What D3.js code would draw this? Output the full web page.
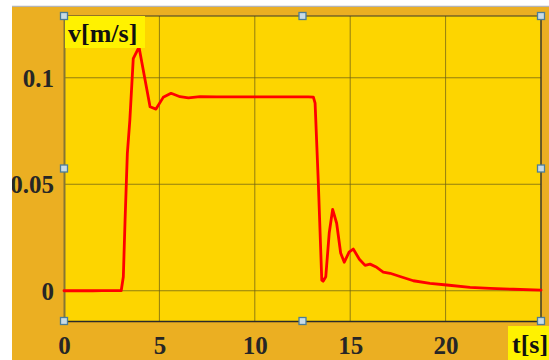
<!DOCTYPE html>
<html>
<head>
<meta charset="utf-8">
<script src="https://cdn.jsdelivr.net/npm/d3@7/dist/d3.min.js"></script>
<style>
  html, body { margin: 0; padding: 0; background: #ffffff; }
  svg { display: block; }
</style>
</head>
<body>
<script>
// Velocity response v(t)
const timeS = [0, 0.5, 1, 1.5, 2, 2.5, 3.0, 3.11, 3.2, 3.32, 3.45, 3.63, 3.93, 4.51, 4.82, 5.2, 5.61, 6.08, 6.52, 7.13, 8, 9, 10, 11, 12, 12.8, 13.07, 13.16, 13.33, 13.51, 13.58, 13.72, 13.9, 14.08, 14.29, 14.5, 14.69, 14.94, 15.16, 15.48, 15.78, 16.04, 16.39, 16.73, 17.09, 17.61, 18.31, 19.18, 20.06, 21.28, 22.33, 23.55, 25];
const velocity = [0, 0, 0.0001, 0, 0.0001, 0.0001, 0.0001, 0.0066, 0.033, 0.0645, 0.080, 0.109, 0.1144, 0.0864, 0.0853, 0.0908, 0.0927, 0.0911, 0.0906, 0.0911, 0.091, 0.091, 0.091, 0.091, 0.091, 0.091, 0.0909, 0.0881, 0.0506, 0.005, 0.0045, 0.0066, 0.0271, 0.0382, 0.0317, 0.0177, 0.0134, 0.0181, 0.0196, 0.0148, 0.0119, 0.0125, 0.0110, 0.0088, 0.0082, 0.0067, 0.0047, 0.0035, 0.0027, 0.0016, 0.0011, 0.0007, 0.0003];
const xTicks = [0, 5, 10, 15, 20];
const yTicks = [0, 0.05, 0.1];
const yTickLabels = ["0", "0.05", "0.1"];

const W = 549, H = 360;
const plot = { left: 64, right: 541, top: 16, bottom: 321 };

const svg = d3.select("body").append("svg")
  .attr("width", W).attr("height", H);

svg.append("clipPath").attr("id", "panelClip")
  .append("rect").attr("x", 12).attr("y", 7).attr("width", W - 12).attr("height", H - 7);

// top rule
svg.append("line").attr("x1", 12).attr("x2", W).attr("y1", 6.5).attr("y2", 6.5)
  .attr("stroke", "#b4b4b4").attr("stroke-width", 1.5);

const panel = svg.append("g").attr("clip-path", "url(#panelClip)");
panel.append("rect").attr("x", 12).attr("y", 7).attr("width", W - 12).attr("height", H - 7)
  .attr("fill", "#ebaf22");

const x = d3.scaleLinear().domain([0, 25]).range([plot.left, plot.right]);
const y = d3.scaleLinear().domain([-0.0142, 0.129]).range([plot.bottom, plot.top]);

panel.append("rect")
  .attr("x", plot.left).attr("y", plot.top)
  .attr("width", plot.right - plot.left).attr("height", plot.bottom - plot.top)
  .attr("fill", "#fdd500");

// grid
const grid = panel.append("g").attr("stroke", "#6e6016").attr("stroke-opacity", 0.75).attr("stroke-width", 1);
grid.selectAll(".gx").data(xTicks.filter(d => d > 0)).join("line")
  .attr("x1", d => x(d)).attr("x2", d => x(d))
  .attr("y1", plot.top).attr("y2", plot.bottom);
grid.selectAll(".gy").data(yTicks).join("line")
  .attr("x1", plot.left).attr("x2", plot.right)
  .attr("y1", d => y(d)).attr("y2", d => y(d));

// frame
panel.append("line").attr("x1", plot.left).attr("x2", plot.right).attr("y1", plot.top).attr("y2", plot.top)
  .attr("stroke", "#3c3a2a").attr("stroke-width", 1.2);
panel.append("line").attr("x1", plot.right).attr("x2", plot.right).attr("y1", plot.top).attr("y2", plot.bottom)
  .attr("stroke", "#3c3a2a").attr("stroke-width", 1.5);

// axes
const xAxis = d3.axisBottom(x).tickValues(xTicks).tickSize(0).tickPadding(0).tickFormat(d3.format("d"));
const yAxis = d3.axisLeft(y).tickValues(yTicks).tickSize(0).tickPadding(0)
  .tickFormat((d, i) => yTickLabels[i]);

const gx = panel.append("g").attr("transform", `translate(0,${plot.bottom})`).call(xAxis);
gx.select(".domain").attr("stroke", "#2a2a2a").attr("stroke-width", 1.5);
gx.selectAll("text").attr("y", 33).attr("dy", null);

const gy = panel.append("g").attr("transform", `translate(${plot.left},0)`).call(yAxis);
gy.select(".domain").attr("stroke", "#857633").attr("stroke-width", 2);
gy.selectAll("text").attr("x", -10).attr("dy", "0.34em");

panel.selectAll(".tick text")
  .attr("font-family", "'Liberation Serif', 'Times New Roman', serif")
  .attr("font-weight", "bold").attr("font-size", 25).attr("fill", "#262626");

// data line
const line = d3.line().x((d, i) => x(timeS[i])).y(d => y(d));
panel.append("path").datum(velocity)
  .attr("d", line)
  .attr("fill", "none").attr("stroke", "#ff0000").attr("stroke-width", 2.8)
  .attr("stroke-linejoin", "round").attr("stroke-linecap", "round");

// axis titles with highlight boxes
panel.append("rect").attr("x", 65).attr("y", 16).attr("width", 80).attr("height", 32).attr("fill", "#fff200");
panel.append("text").attr("x", 68).attr("y", 42)
  .attr("font-family", "'Liberation Serif', 'Times New Roman', serif")
  .attr("font-weight", "bold").attr("font-size", 26).attr("fill", "#111")
  .text("v[m/s]");

panel.append("rect").attr("x", 508).attr("y", 326).attr("width", 41).attr("height", 34).attr("fill", "#fff200");
panel.append("text").attr("x", 512).attr("y", 353)
  .attr("font-family", "'Liberation Serif', 'Times New Roman', serif")
  .attr("font-weight", "bold").attr("font-size", 26).attr("fill", "#111")
  .text("t[s]");

// selection handles
const mx = (plot.left + plot.right) / 2, my = (plot.top + plot.bottom) / 2;
const handles = [
  [plot.left, plot.top], [mx, plot.top], [plot.right, plot.top],
  [plot.left, my], [plot.right, my],
  [plot.left, plot.bottom], [mx, plot.bottom], [plot.right, plot.bottom]
];
panel.selectAll(".handle").data(handles).join("rect")
  .attr("x", d => d[0] - 3.5).attr("y", d => d[1] - 3.5)
  .attr("width", 7).attr("height", 7)
  .attr("fill", "#c8dbe6").attr("stroke", "#4b7d98").attr("stroke-width", 1.3);
</script>
</body>
</html>
